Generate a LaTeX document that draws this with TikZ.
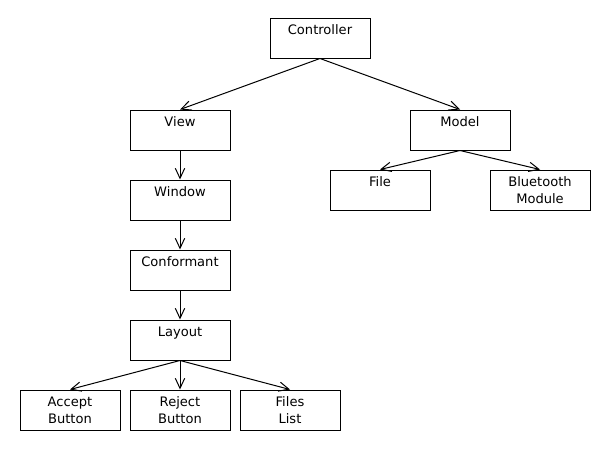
\documentclass[tikz,border=0pt]{standalone}
\usepackage{fontspec}
\setmainfont{DejaVu Sans}
\usetikzlibrary{arrows.meta}
\begin{document}
\begin{tikzpicture}[x=0.75pt, y=-0.75pt,
    block/.style ={draw, line width=0.75pt, inner sep=0pt, text width=75pt,
      align=center, text height=12.6pt, text depth=17.4pt,
      font=\fontsize{9.8pt}{12.4pt}\selectfont},
    link/.style ={line width=0.75pt, -{Straight Barb[length=7.5pt,width=7pt]}}]
   \useasboundingbox (0,0) rectangle (610,450);
   \node[block] (controller) at (320,38)  {Controller};
   \node[block] (view)       at (180,130) {View};
   \node[block] (model)      at (460,130) {Model};
   \node[block] (file)       at (380,190) {File};
   \node[block] (bluetooth)  at (540,190) {Bluetooth\\Module};
   \node[block] (window)     at (180,200) {Window};
   \node[block] (conformant) at (180,270) {Conformant};
   \node[block] (layout)     at (180,340) {Layout};
   \node[block] (accept)     at (70,410)  {Accept\\Button};
   \node[block] (reject)     at (180,410) {Reject\\Button};
   \node[block] (fileslist)  at (290,410) {Files\\List};

   \draw[link] (controller.south) to (view.north);
   \draw[link] (controller.south) to (model.north);
   \draw[link] (model.south) to (file.north);
   \draw[link] (model.south) to (bluetooth.north);
   \draw[link] (view.south) to (window.north);
   \draw[link] (window.south) to (conformant.north);
   \draw[link] (conformant.south) to (layout.north);
   \draw[link] (layout.south) to (accept.north);
   \draw[link] (layout.south) to (reject.north);
   \draw[link] (layout.south) to (fileslist.north);
 \end{tikzpicture}
\end{document}
